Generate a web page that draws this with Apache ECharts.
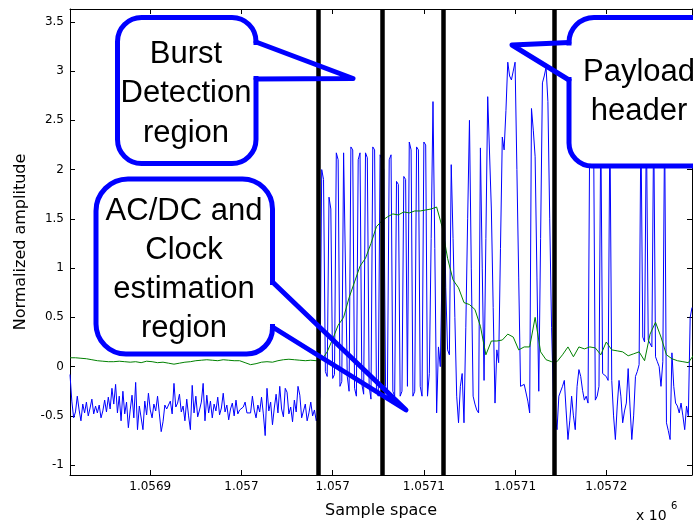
<!DOCTYPE html>
<html><head><meta charset="utf-8">
<script src="https://cdn.jsdelivr.net/npm/echarts@6/dist/echarts.min.js"></script>
<style>html,body{margin:0;padding:0;background:#fff}#c{width:693px;height:524px}</style>
</head><body><div id="c"></div>
<script>
// ---- data ----
const sampleStart = 1056856;
const sampleEnd = 1057197;
const xTickValues = [1056900, 1056950, 1057000, 1057050, 1057100, 1057150];
const xTickLabels = ['1.0569', '1.057', '1.057', '1.0571', '1.0571', '1.0572'];
const yTickValues = [-1, -0.5, 0, 0.5, 1, 1.5, 2, 2.5, 3, 3.5];
const regionBoundaries = [1056992, 1057027, 1057060.5, 1057121.5];

// blue received signal, one value per sample
const blueQuiet = [
-0.08,-0.35,-0.52,-0.46,-0.30,-0.44,-0.55,-0.38,-0.47,-0.36,
-0.50,-0.42,-0.33,-0.48,-0.40,-0.47,-0.39,-0.52,-0.45,-0.34,
-0.46,-0.31,-0.43,-0.22,-0.38,-0.18,-0.47,-0.30,-0.55,-0.25,
-0.48,-0.36,-0.62,-0.44,-0.29,-0.52,-0.16,-0.64,-0.40,-0.42,
-0.64,-0.35,-0.49,-0.27,-0.44,-0.52,-0.38,-0.45,-0.30,-0.48,
-0.66,-0.56,-0.39,-0.43,-0.43,-0.35,-0.48,-0.17,-0.41,-0.37,
-0.28,-0.46,-0.40,-0.55,-0.33,-0.50,-0.64,-0.19,-0.47,-0.30,
-0.51,-0.44,-0.36,-0.17,-0.55,-0.29,-0.47,-0.35,-0.52,-0.38,
-0.45,-0.31,-0.49,-0.42,-0.27,-0.46,-0.39,-0.54,-0.43,-0.37,
-0.50,-0.34,-0.48,-0.44,-0.45,-0.41,-0.36,-0.47,-0.45,-0.47,
-0.30,-0.44,-0.52,-0.39,-0.46,-0.31,-0.48,-0.70,-0.22,-0.45,
-0.36,-0.59,-0.42,-0.28,-0.47,-0.20,-0.43,-0.51,-0.22,-0.26,
-0.48,-0.41,-0.56,-0.34,-0.46,-0.20,-0.29,-0.52,-0.45,-0.38,
-0.55,-0.47,-0.36,-0.50,-0.44,-0.55];
const blueBurstA = [-0.50,-0.30,2.0,1.9,-0.05,-0.1,1.72,1.6,-0.12,-0.08,2.17,2.1,-0.2,-0.15,2.17,2.15,-0.1,-0.25,2.23,2.2,-0.22,-0.3,2.1,2.17,-0.18,-0.28,2.17,2.12,-0.2,-0.33,2.23,2.2,-0.25,-0.3,2.15];
const blueBurstB = [2.1,2.0,-0.2,-0.28,2.1,2.15,-0.25,-0.3,1.88,1.85,-0.3,-0.25,1.93,1.9,-0.2,2.28,2.2,-0.3,-0.25,2.23,2.2,-0.2,-0.3,2.28,2.25,-0.3,-0.07,1.3,2.69,1.2,-0.47,0.2,0.0,1.0,1.93];
const blueHeader = [0.8,0.17,0.12,2.05,1.3,0.5,-0.3,-0.57,-0.2,-0.07,-0.57,0.4,1.5,2.5,1.0,-0.3,-0.38,-0.44,-0.47,2.22,1.0,-0.14,1.3,2.74,2.74,1.6,0.6,-0.37,0.17,0.04,1.2,2.33,2.2,2.6,3.09,2.95,2.91,3.0,3.09,2.0,0.9,-0.2,-0.2,-0.18,-0.17,-0.35,-0.47,2.62,2.4,2.13,0.9,-0.25,1.3,2.88,2.95,3.04,2.69,1.5,0.4,-0.3];
const bluePayload = [-0.5,-0.64,-0.3,-0.3,-0.2,-0.14,-0.45,-0.74,-0.55,-0.3,-0.5,-0.64,-0.2,-0.03,-0.1,-0.24,-0.34,-0.3,-0.37,2.6,2.6,2.5,-0.34,-0.3,-0.2,2.5,-0.07,-0.07,-0.1,-0.14,2.5,-0.14,-0.5,-0.74,-0.4,-0.14,-0.3,-0.57,-0.45,-0.37,-0.02,-0.4,-0.74,-0.5,-0.1,-0.05,0.02,2.5,0.3,0.25,2.5,0.27,0.27,0.2,2.5,0.1,0.05,0.0,-0.2,0.05,2.5,-0.57,-0.65,-0.74,0.14,-0.2,-0.37,-0.4,-0.47,-0.37,-0.5,-0.64,-0.4,-0.5,0.5,0.6];

// green running mean, one value every 3 samples
const greenStep = 3;
const greenQuiet = [0.09,0.09,0.085,0.08,0.07,0.06,0.055,0.05,0.05,0.055,0.05,0.045,0.05,0.04,0.055,0.05,0.04,0.045,0.035,0.025,0.035,0.045,0.05,0.06,0.065,0.07,0.065,0.06,0.07,0.065,0.06,0.06,0.04,0.02,0.03,0.045,0.05,0.045,0.06,0.07,0.075,0.07,0.065,0.06,0.065,0.06];
const greenRise = [0.07,0.15,0.28,0.42,0.5,0.7,0.86,1.02,1.1,1.25,1.42,1.48,1.52,1.55,1.54,1.57,1.56,1.58,1.58,1.59,1.6,1.62,1.42];
const greenFall = [1.1,0.88,0.8,0.65,0.63,0.58,0.41,0.12,0.26,0.26,0.27,0.33,0.3,0.17,0.2,0.2,0.5,0.15,0.07,0.05];
const greenTail = [0.05,0.12,0.2,0.1,0.2,0.18,0.2,0.19,0.12,0.25,0.17,0.16,0.15,0.11,0.13,0.15,0.06,0.33,0.45,0.3,0.12,0.08,0.06,0.05,0.04,0.12];

// ---- build ----
const blueAll = [].concat(blueQuiet, blueBurstA, blueBurstB, blueHeader, bluePayload);
const blueData = blueAll.map((v, i) => [sampleStart + i, v]);
const greenAll = [].concat(greenQuiet, greenRise, greenFall, greenTail);
const greenData = greenAll.map((v, i) => [sampleStart + i * greenStep, v]);

const AX = '"DejaVu Sans", sans-serif';
const CF = '31px "Liberation Sans", Arial, sans-serif';
const BLUE = '#0000ff';

function callout(rect, r, tail, lines, cx, cy0, lh) {
  const els = [];
  els.push({type:'rect', z:100, shape:{x:rect[0], y:rect[1], width:rect[2], height:rect[3], r:r},
    style:{fill:'#fff', stroke:BLUE, lineWidth:5}});
  const a = tail[0], b = tail[2];
  const dy = b[1] > a[1] ? 3 : -3;
  els.push({type:'line', z:101, shape:{x1:a[0], y1:a[1]+dy, x2:b[0], y2:b[1]-dy},
    style:{stroke:'#fff', lineWidth:7}});
  els.push({type:'polyline', z:102, shape:{points:tail},
    style:{stroke:BLUE, lineWidth:5, fill:null, lineJoin:'round', lineCap:'round'}});
  lines.forEach((t, k) => {
    els.push({type:'text', z:103, x:cx, y:cy0 + k*lh,
      style:{text:t, font:CF, fill:'#000', textAlign:'center', textVerticalAlign:'middle', align:'center', verticalAlign:'middle'}});
  });
  return els;
}

let graphics = [];
graphics = graphics.concat(callout([117.5,17.5,138.5,146], 24, [[256,42],[353,78.5],[256,79]], ['Burst','Detection','region'], 186, 54, 39.5));
graphics = graphics.concat(callout([96,179,176.5,175], [32,30,26,30], [[272.5,282],[406,410],[272.5,327]], ['AC/DC and','Clock','estimation','region'], 184, 211, 39));
graphics = graphics.concat(callout([569,17.5,170,148.5], [25,25,25,23], [[569,42.5],[512,45],[569,80]], ['Payload','header'], 639, 72.5, 38.5));
graphics.push({type:'text', z:50, x:636, y:516, style:{text:'x 10', font:'14px ' + AX, fill:'#000', textAlign:'left', textVerticalAlign:'middle', align:'left', verticalAlign:'middle'}});
graphics.push({type:'text', z:50, x:671, y:506, style:{text:'6', font:'10px ' + AX, fill:'#000', textAlign:'left', textVerticalAlign:'middle', align:'left', verticalAlign:'middle'}});

const axisLineStyle = {color:'#000', width:1};
const chart = echarts.init(document.getElementById('c'), null, {renderer:'canvas'});
chart.setOption({
  animation: false,
  backgroundColor: '#fff',
  textStyle: {fontFamily: AX},
  grid: {left:70, right:1, top:9, bottom:49, containLabel:false, outerBoundsMode:'none'},
  xAxis: [{
    type:'value', min:sampleStart, max:sampleEnd, position:'bottom',
    name:'Sample space', nameLocation:'middle', nameGap:28,
    nameTextStyle:{fontSize:16, color:'#000', fontFamily:AX},
    axisLine:{show:true, onZero:false, lineStyle:axisLineStyle},
    axisTick:{show:true, inside:true, length:5, customValues:xTickValues, lineStyle:axisLineStyle},
    axisLabel:{show:true, customValues:xTickValues, margin:6, fontSize:12, color:'#000', fontFamily:AX,
      formatter:(v) => { const k = xTickValues.indexOf(Math.round(v)); return k >= 0 ? xTickLabels[k] : ''; }},
    splitLine:{show:false}
  }, {
    type:'value', min:sampleStart, max:sampleEnd, position:'top',
    axisLine:{show:true, onZero:false, lineStyle:axisLineStyle},
    axisTick:{show:true, inside:true, length:5, customValues:xTickValues, lineStyle:axisLineStyle},
    axisLabel:{show:false}, splitLine:{show:false}
  }],
  yAxis: [{
    type:'value', min:-1.1, max:3.63, position:'left',
    name:'Normalized amplitude', nameLocation:'middle', nameGap:41,
    nameTextStyle:{fontSize:16, color:'#000', fontFamily:AX},
    axisLine:{show:true, onZero:false, lineStyle:axisLineStyle},
    axisTick:{show:true, inside:true, length:5, customValues:yTickValues, lineStyle:axisLineStyle},
    axisLabel:{show:true, customValues:yTickValues, margin:6, fontSize:12, color:'#000', fontFamily:AX},
    splitLine:{show:false}
  }, {
    type:'value', min:-1.1, max:3.63, position:'right',
    axisLine:{show:true, onZero:false, lineStyle:axisLineStyle},
    axisTick:{show:true, inside:true, length:5, customValues:yTickValues, lineStyle:axisLineStyle},
    axisLabel:{show:false}, splitLine:{show:false}
  }],
  series: [{
    type:'line', name:'signal', data:blueData, xAxisIndex:0, yAxisIndex:0,
    showSymbol:false, symbol:'none', z:2, silent:true,
    lineStyle:{color:BLUE, width:1}
  }, {
    type:'line', name:'mean', data:greenData, xAxisIndex:0, yAxisIndex:0,
    showSymbol:false, symbol:'none', z:3, silent:true,
    lineStyle:{color:'#008000', width:1}
  }, {
    type:'line', name:'bounds', data:[], xAxisIndex:0, yAxisIndex:0, z:4, silent:true,
    markLine:{silent:true, symbol:['none','none'], label:{show:false},
      lineStyle:{color:'#000', width:4.5, type:'solid'},
      emphasis:{disabled:true},
      data: regionBoundaries.map(b => ({xAxis:b}))}
  }],
  graphic: {elements: graphics}
});
</script>
</body></html>
